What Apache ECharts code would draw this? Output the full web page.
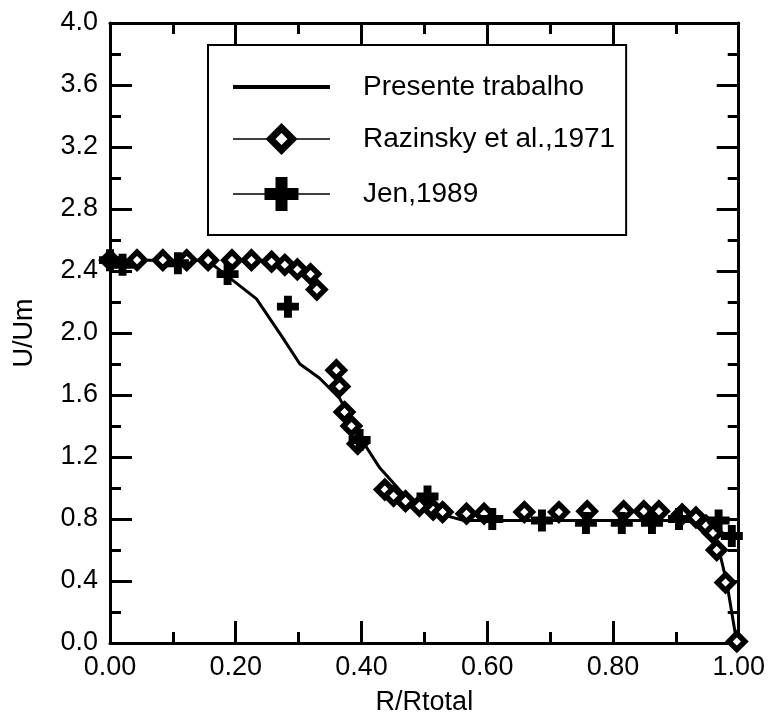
<!DOCTYPE html>
<html>
<head>
<meta charset="utf-8">
<script src="https://cdn.jsdelivr.net/npm/echarts@6/dist/echarts.min.js"></script>
<style>
    html, body { margin: 0; padding: 0; background: #fff; }
    #graph1 { width: 768px; height: 721px; }
</style>
</head>
<body>
<div id="graph1"></div>
<script>
// Presente trabalho (curva calculada)
var presenteX = [0.0, 0.148, 0.167, 0.233, 0.273, 0.302, 0.333, 0.365, 0.402, 0.429, 0.471, 0.508, 0.54, 0.563, 0.70, 0.85, 0.937, 0.955, 0.968, 0.981, 0.997];
var presenteY = [2.47, 2.47, 2.43, 2.22, 1.98, 1.80, 1.71, 1.58, 1.30, 1.13, 0.94, 0.85, 0.815, 0.79, 0.79, 0.79, 0.79, 0.74, 0.61, 0.39, 0.0];

// Razinsky et al., 1971
var razinskyX = [0.0, 0.043, 0.084, 0.122, 0.156, 0.194, 0.225, 0.257, 0.278, 0.298, 0.319, 0.329,
    0.360, 0.365, 0.373, 0.384, 0.394,
    0.437, 0.451, 0.470, 0.492, 0.514, 0.529, 0.567, 0.595, 0.659, 0.714, 0.759, 0.817, 0.849, 0.873,
    0.910, 0.932, 0.948, 0.959, 0.965, 0.979, 0.997];
var razinskyY = [2.47, 2.47, 2.47, 2.47, 2.47, 2.47, 2.47, 2.46, 2.44, 2.41, 2.38, 2.28,
    1.76, 1.655, 1.49, 1.40, 1.285,
    0.99, 0.95, 0.915, 0.885, 0.86, 0.845, 0.834, 0.834, 0.845, 0.845, 0.85, 0.85, 0.85, 0.85,
    0.83, 0.81, 0.757, 0.71, 0.60, 0.39, 0.01];

// Jen, 1989
var jenX = [0.0, 0.02, 0.108, 0.187, 0.283, 0.397, 0.505, 0.608, 0.687, 0.757, 0.814, 0.862, 0.905, 0.968, 0.989];
var jenY = [2.47, 2.44, 2.45, 2.38, 2.17, 1.31, 0.945, 0.80, 0.79, 0.775, 0.775, 0.775, 0.80, 0.79, 0.69];

var xTicks = [0, 0.2, 0.4, 0.6, 0.8, 1.0];
var yTicks = [0, 0.4, 0.8, 1.2, 1.6, 2.0, 2.4, 2.8, 3.2, 3.6, 4.0];

var FONT = "'Liberation Sans', Arial, sans-serif";
var PLUS = 'path://M32,0H68V32H100V68H68V100H32V68H0V32H32Z';

// icones da legenda: linha + simbolo numa caixa 97x36
var ICON_LINE = 'path://M0,16H97V20H0Z';
var ICON_DIAMOND = 'path://M0,17.25H33V18.75H0Z M64,17.25H97V18.75H64Z ' +
    'M48.5,2L64.5,18L48.5,34L32.5,18Z M48.5,12L42.5,18L48.5,24L54.5,18Z';
var ICON_PLUS = 'path://M0,17.25H32V18.75H0Z M65,17.25H97V18.75H65Z ' +
    'M42.5,1H54.5V12H65.5V24H54.5V35H42.5V24H31.5V12H42.5Z';

function zip(xs, ys) {
    var out = [];
    for (var i = 0; i < xs.length; i++) {
        out.push([xs[i], ys[i]]);
    }
    return out;
}

function makeXAxis(pos, showLabel) {
    return {
        type: 'value',
        position: pos,
        min: xTicks[0],
        max: xTicks[xTicks.length - 1],
        interval: xTicks[1] - xTicks[0],
        name: showLabel ? 'R/Rtotal' : '',
        nameLocation: 'middle',
        nameGap: 46,
        nameTextStyle: { fontSize: 27, color: '#000', fontFamily: FONT },
        axisLine: { show: true, onZero: false, lineStyle: { color: '#000', width: 3 } },
        axisTick: { show: true, inside: true, length: 22, lineStyle: { color: '#000', width: 3 } },
        minorTick: { show: true, splitNumber: 2, length: 11, lineStyle: { color: '#000', width: 3 } },
        axisLabel: {
            show: showLabel, margin: 11, fontSize: 27, color: '#000', fontFamily: FONT,
            formatter: function (v) { return v.toFixed(2); }
        },
        splitLine: { show: false }
    };
}

function makeYAxis(pos, showLabel) {
    return {
        type: 'value',
        position: pos,
        min: yTicks[0],
        max: yTicks[yTicks.length - 1],
        interval: yTicks[1] - yTicks[0],
        name: showLabel ? 'U/Um' : '',
        nameLocation: 'middle',
        nameGap: 72,
        nameTextStyle: { fontSize: 27, color: '#000', fontFamily: FONT },
        axisLine: { show: true, onZero: false, lineStyle: { color: '#000', width: 3 } },
        axisTick: { show: true, inside: true, length: 22, lineStyle: { color: '#000', width: 3 } },
        minorTick: { show: true, splitNumber: 2, length: 11, lineStyle: { color: '#000', width: 3 } },
        axisLabel: {
            show: showLabel, margin: 12, fontSize: 27, color: '#000', fontFamily: FONT,
            formatter: function (v) { return v.toFixed(1); }
        },
        splitLine: { show: false }
    };
}

var myChart1 = echarts.init(document.getElementById('graph1'));

var option1 = {
    animation: false,
    backgroundColor: '#fff',
    grid: { left: 110, top: 23, right: 28, bottom: 70, containLabel: false },
    legend: {
        orient: 'vertical',
        left: 208,
        top: 45,
        padding: [28, 11, 24, 25],
        itemWidth: 97,
        itemHeight: 36,
        itemGap: 22,
        borderColor: '#000',
        borderWidth: 2,
        backgroundColor: '#fff',
        textStyle: { fontSize: 28, color: '#000', fontFamily: FONT, padding: [0, 0, 0, 28] },
        data: [
            { name: 'Presente trabalho', icon: ICON_LINE, itemStyle: { color: '#000', borderWidth: 0 } },
            { name: 'Razinsky et al.,1971', icon: ICON_DIAMOND, itemStyle: { color: '#000', borderWidth: 0 } },
            { name: 'Jen,1989', icon: ICON_PLUS, itemStyle: { color: '#000', borderWidth: 0 } }
        ]
    },
    xAxis: [makeXAxis('bottom', true), makeXAxis('top', false)],
    yAxis: [makeYAxis('left', true), makeYAxis('right', false)],
    series: [
        {
            name: 'Presente trabalho',
            type: 'line',
            data: zip(presenteX, presenteY),
            showSymbol: false,
            symbol: 'circle',
            clip: false,
            lineStyle: { color: '#000', width: 3 },
            itemStyle: { color: '#000' },
            z: 2
        },
        {
            name: 'Razinsky et al.,1971',
            type: 'line',
            data: zip(razinskyX, razinskyY),
            symbol: 'diamond',
            symbolSize: 16,
            showAllSymbol: true,
            clip: false,
            lineStyle: { opacity: 0 },
            itemStyle: { color: '#fff', borderColor: '#000', borderWidth: 5.5 },
            z: 3
        },
        {
            name: 'Jen,1989',
            type: 'line',
            data: zip(jenX, jenY),
            symbol: PLUS,
            symbolSize: 22,
            showAllSymbol: true,
            clip: false,
            lineStyle: { opacity: 0 },
            itemStyle: { color: '#000' },
            z: 4
        }
    ]
};

myChart1.setOption(option1);
</script>
</body>
</html>
